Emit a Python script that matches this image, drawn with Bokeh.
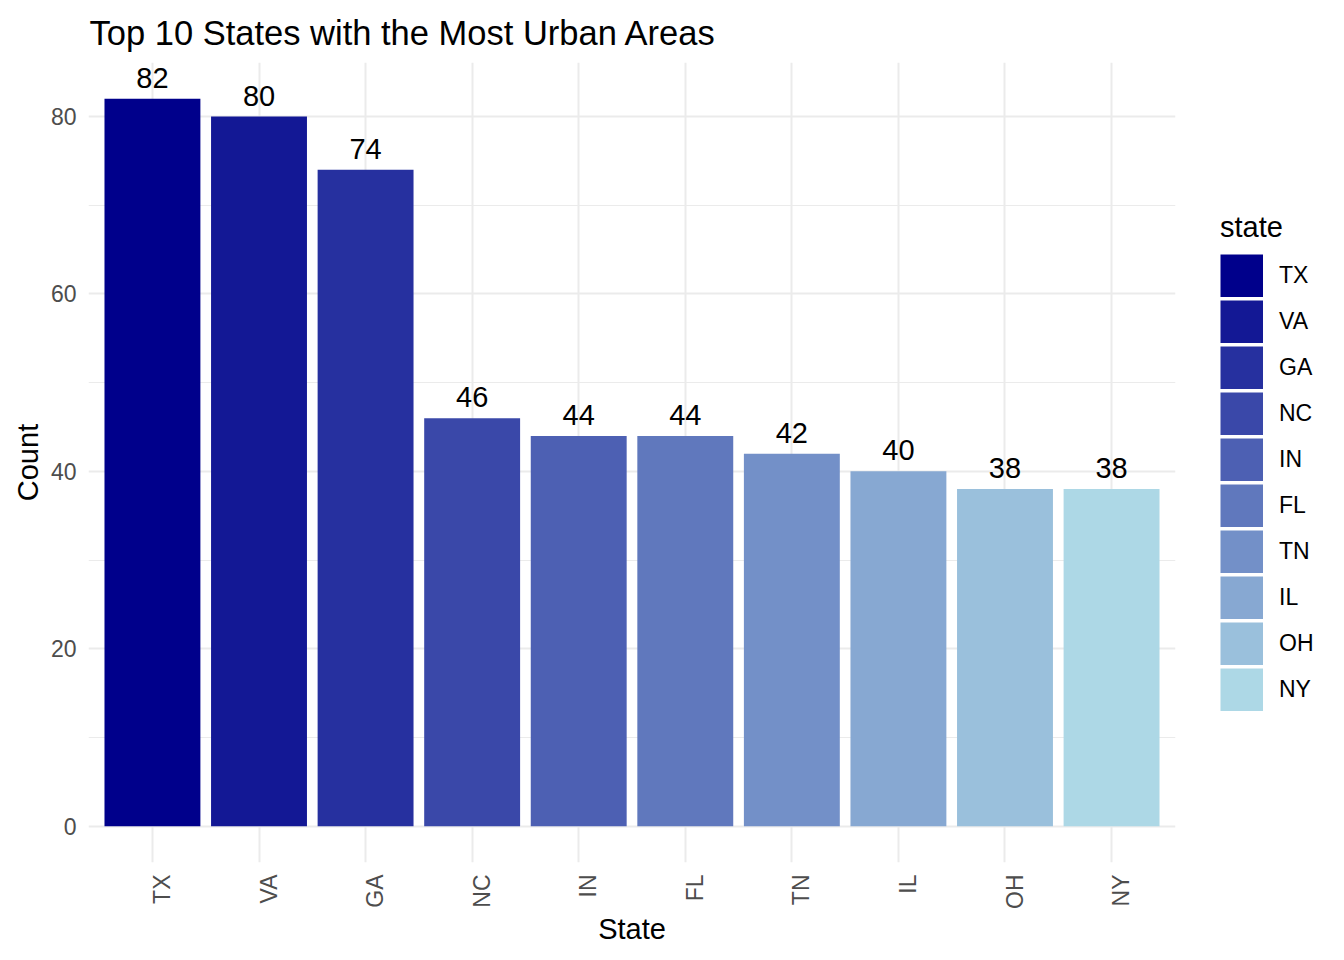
import math
from bokeh.plotting import figure
from bokeh.models import (ColumnDataSource, Range1d, FixedTicker, Legend, LegendItem,
                          CustomJSTickFormatter)
from bokeh.core.properties import value
from bokeh.embed import file_html
from bokeh.resources import INLINE

states = ["TX", "VA", "GA", "NC", "IN", "FL", "TN", "IL", "OH", "NY"]
counts = [82, 80, 74, 46, 44, 44, 42, 40, 38, 38]
palette = ["#00008B", "#131895", "#26309F", "#3A48A9", "#4D60B3",
           "#6078BD", "#7390C8", "#87A8D2", "#9AC0DC", "#ADD8E6"]
y_major = [0, 20, 40, 60, 80]
y_minor = [10, 30, 50, 70]

FONT = "Liberation Sans"
xs = list(range(1, len(states) + 1))

src = ColumnDataSource(dict(
    x=xs, state=states, count=counts, color=palette,
    label=[str(c) for c in counts],
))

p = figure(frame_width=1087, frame_height=800, output_backend="svg", toolbar_location=None,
           x_range=Range1d(0.4, len(states) + 0.6), y_range=Range1d(-4.1, 86.1),
           min_border_left=88, min_border_right=153, min_border_top=62,
           min_border_bottom=82, title="Top 10 States with the Most Urban Areas")

p.outline_line_color = None
p.background_fill_color = "white"
p.border_fill_color = "white"

p.title.text_font = FONT
p.title.text_font_size = "34.5px"
p.title.text_font_style = "normal"
p.title.text_color = "black"
p.title.offset = 1
p.title.standoff = 21

r = p.vbar(x="x", top="count", bottom=0, width=0.9, fill_color="color",
           line_color=None, source=src)

p.text(x="x", y="count", text="label", source=src, text_font=value(FONT),
       text_font_size="29px", text_align="center", text_baseline="bottom",
       y_offset=-11, text_color="black")

# axes
p.xaxis.ticker = FixedTicker(ticks=[x + 0.09 for x in xs])
p.xaxis.formatter = CustomJSTickFormatter(args=dict(labels=states),
                                          code="return labels[Math.round(tick) - 1];")
p.xaxis.major_label_orientation = math.pi / 2
p.xaxis.axis_label = "State"
p.yaxis.ticker = FixedTicker(ticks=y_major, minor_ticks=y_minor)
p.yaxis.axis_label = "Count"

for ax in (p.xaxis[0], p.yaxis[0]):
    ax.axis_line_color = None
    ax.major_tick_line_color = None
    ax.minor_tick_line_color = None
    ax.major_label_text_font = FONT
    ax.major_label_text_font_size = "23px"
    ax.major_label_text_color = "#4D4D4D"
    ax.axis_label_text_font = FONT
    ax.axis_label_text_font_size = "29px"
    ax.axis_label_text_font_style = "normal"
    ax.axis_label_text_color = "black"
p.xaxis.major_label_standoff = 6
p.yaxis.major_label_standoff = 6
p.xaxis.axis_label_standoff = 1
p.yaxis.axis_label_standoff = 4

# grid
p.xgrid.ticker = FixedTicker(ticks=xs)
p.xgrid.grid_line_color = "#EBEBEB"
p.xgrid.grid_line_width = 2
p.ygrid.grid_line_color = "#EBEBEB"
p.ygrid.grid_line_width = 2
p.ygrid.minor_grid_line_color = "#EBEBEB"
p.ygrid.minor_grid_line_width = 1

# legend: one invisible thick-line renderer per state gives a full square key
nan = float("nan")
key_renderers = [p.line(x=[nan], y=[nan], line_color=c, line_width=43, line_cap="butt")
                 for c in palette]
items = [LegendItem(label=s, renderers=[kr]) for s, kr in zip(states, key_renderers)]
lg = Legend(items=items, location=(45, 151))
lg.title = "state"
lg.title_text_font = FONT
lg.title_text_font_size = "29px"
lg.title_text_font_style = "normal"
lg.title_text_color = "black"
lg.title_standoff = 10
lg.label_text_font = FONT
lg.label_text_font_size = "23px"
lg.label_text_color = "black"
lg.glyph_width = 43
lg.glyph_height = 43
lg.spacing = 3
lg.label_standoff = 16
lg.padding = 0
lg.margin = 0
lg.border_line_color = None
lg.background_fill_alpha = 0
p.add_layout(lg, "right")

open("out.html", "w").write(file_html(p, INLINE))
